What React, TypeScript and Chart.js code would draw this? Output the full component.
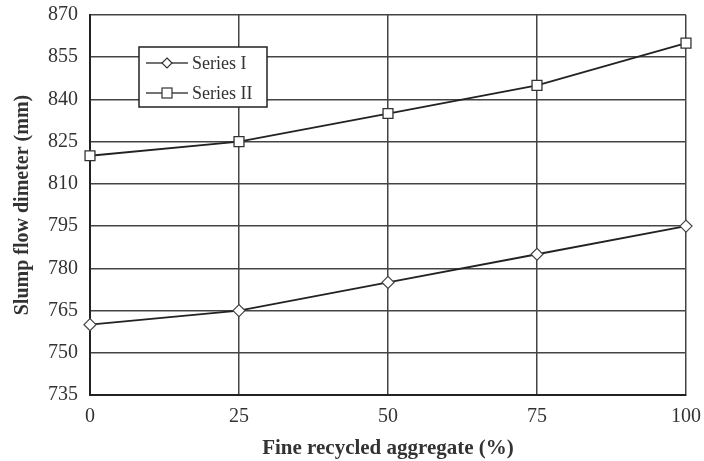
import React, { useEffect, useRef } from "react";
import { Chart, registerables } from "chart.js";
Chart.register(...registerables);

const xValues = [0, 25, 50, 75, 100];
const seriesI = [760, 765, 775, 785, 795];
const seriesII = [820, 825, 835, 845, 860];
const seriesNames = ["Series I", "Series II"];
const yTicks = [735, 750, 765, 780, 795, 810, 825, 840, 855, 870];

const FONT = "'Liberation Serif', 'Times New Roman', serif";

const legendPlugin = {
  id: "boxLegend",
  afterDraw(chart: any) {
    const ctx = chart.ctx;
    const x0 = 139, y0 = 47, w = 128, h = 60;
    ctx.save();
    ctx.fillStyle = "#fff";
    ctx.fillRect(x0, y0, w, h);
    ctx.strokeStyle = "#222";
    ctx.lineWidth = 1.5;
    ctx.strokeRect(x0, y0, w, h);
    chart.data.datasets.forEach((ds: any, i: number) => {
      const cy = y0 + 16 + i * 30;
      ctx.strokeStyle = "#444";
      ctx.lineWidth = 1.5;
      ctx.beginPath();
      ctx.moveTo(x0 + 7, cy);
      ctx.lineTo(x0 + 49, cy);
      ctx.stroke();
      ctx.fillStyle = "#fff";
      ctx.strokeStyle = "#333";
      ctx.lineWidth = 1.2;
      const cx = x0 + 28;
      if (ds.pointStyle === "rectRot") {
        ctx.beginPath();
        ctx.moveTo(cx, cy - 5);
        ctx.lineTo(cx + 5, cy);
        ctx.lineTo(cx, cy + 5);
        ctx.lineTo(cx - 5, cy);
        ctx.closePath();
        ctx.fill();
        ctx.stroke();
      } else {
        ctx.fillRect(cx - 5, cy - 5, 10, 10);
        ctx.strokeRect(cx - 5, cy - 5, 10, 10);
      }
      ctx.fillStyle = "#333";
      ctx.font = `18px ${FONT}`;
      ctx.textBaseline = "middle";
      ctx.textAlign = "left";
      ctx.fillText(ds.label, x0 + 53, cy + 1);
    });
    ctx.restore();
  },
};

export default function App() {
  const ref = useRef<HTMLCanvasElement>(null);
  useEffect(() => {
    const chart = new Chart(ref.current!, {
      type: "line",
      data: {
        datasets: [
          {
            label: seriesNames[0],
            data: xValues.map((x, i) => ({ x, y: seriesI[i] })),
            borderColor: "#222",
            borderWidth: 1.8,
            pointStyle: "rectRot",
            pointRadius: 6,
            pointBackgroundColor: "#fff",
            pointBorderColor: "#444",
            pointBorderWidth: 1.2,
            clip: false,
          },
          {
            label: seriesNames[1],
            data: xValues.map((x, i) => ({ x, y: seriesII[i] })),
            borderColor: "#222",
            borderWidth: 1.8,
            pointStyle: "rect",
            pointRadius: 7,
            pointBackgroundColor: "#fff",
            pointBorderColor: "#333",
            pointBorderWidth: 1.3,
            clip: false,
          },
        ],
      },
      options: {
        animation: false,
        responsive: false,
        layout: { padding: { top: 15, right: 18, left: 0, bottom: 0 } },
        plugins: { legend: { display: false }, tooltip: { enabled: false } },
        scales: {
          x: {
            type: "linear",
            min: 0,
            max: 100,
            afterBuildTicks: (s: any) => {
              s.ticks = xValues.map((v) => ({ value: v }));
            },
            afterFit: (s: any) => {
              s.height = 66;
              s.paddingLeft = 0;
              s.paddingRight = 0;
            },
            grid: { color: "#444", lineWidth: 1.5, drawTicks: false },
            border: { color: "#222", width: 2 },
            ticks: { color: "#333", font: { family: FONT, size: 20 }, padding: 10, maxRotation: 0 },
            title: {
              display: true,
              text: "Fine recycled aggregate (%)",
              color: "#333",
              font: { family: FONT, size: 21, weight: "bold" },
              padding: { top: 1.5, bottom: 0 },
            },
          },
          y: {
            min: 735,
            max: 870,
            afterBuildTicks: (s: any) => {
              s.ticks = yTicks.map((v) => ({ value: v }));
            },
            afterFit: (s: any) => {
              s.width = 90;
              s.paddingTop = 0;
              s.paddingBottom = 0;
            },
            grid: { color: "#444", lineWidth: 1.5, drawTicks: false },
            border: { color: "#222", width: 2 },
            ticks: { color: "#333", font: { family: FONT, size: 20 }, padding: 12 },
            title: {
              display: true,
              text: "Slump flow dimeter (mm)",
              color: "#333",
              font: { family: FONT, size: 20, weight: "bold" },
              padding: { top: 11, bottom: 0 },
            },
          },
        },
      },
      plugins: [legendPlugin],
    } as any);
    return () => chart.destroy();
  }, []);
  return (
    <div style={{ position: "fixed", left: 0, top: 0, width: 704, height: 461, background: "#fff" }}>
      <canvas ref={ref} width={704} height={461} />
    </div>
  );
}
